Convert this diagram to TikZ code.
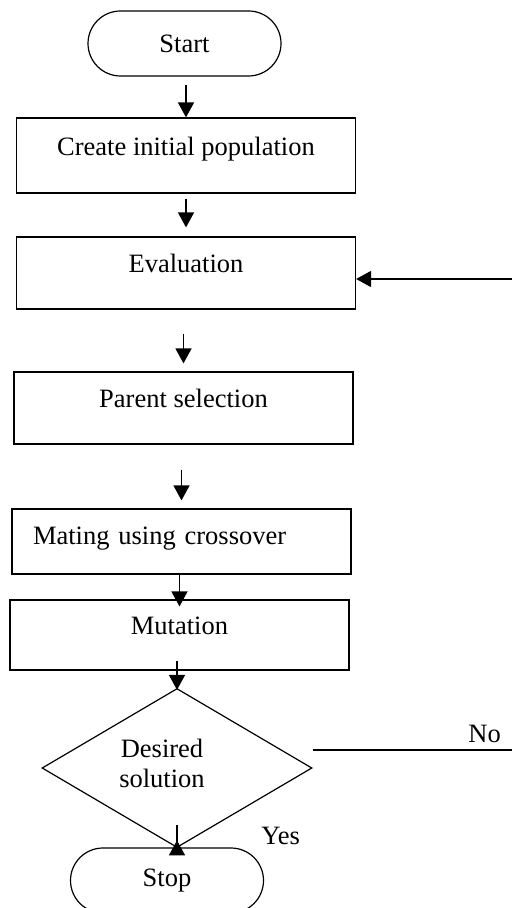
\documentclass[tikz,border=0pt]{standalone}
\usepackage{fontspec}
\setmainfont{Liberation Serif}
\usepackage{tikz}
\usetikzlibrary{shapes.geometric,shapes.misc}
\usetikzlibrary{arrows.meta,positioning}
\tikzset{
    termbox/.style={rounded rectangle, draw, minimum width=96.5pt, minimum height=32.5pt, inner sep=0pt},
    procbox/.style={rectangle, draw, minimum width=169.5pt, inner ysep=0pt},
    decision/.style={diamond, draw, minimum width=135pt, minimum height=79.5pt, inner sep=0pt},
    flow/.style={->, line width=0.75pt}
}

\begin{document}
\begin{tikzpicture}[>={Triangle[length=7.5pt,width=8pt]}, x=0.5pt, y=-0.5pt, line width=0.6pt, font=\fontsize{13.25}{15}\selectfont]
        \useasboundingbox (0,0) rectangle (512,908);

        % Start and stop
        \node[termbox] (start) at (184.5,43.5) {Start};
        \node[termbox] (stop) at (167,880.5) {Stop};

        % The steps of the loop
        \node[procbox, text height=19pt, text depth=18.5pt] (create) at (186,155.5) {Create initial population};
        \node[procbox, text height=18pt, text depth=18pt] (eval) at (186,273) {Evaluation};
        \node[procbox, text height=18pt, text depth=18pt] (parent) at (183.5,408) {Parent selection};
        \node[procbox, text height=17.5pt, text depth=15pt, align=left, text width=148.5pt, inner xsep=10.5pt] (mating) at (181.5,541.5) {Mating using crossover};
        \node[procbox, text height=17pt, text depth=18pt] (mutation) at (179.5,635) {Mutation};

        % The test
        \node[decision, label={[align=center, xshift=-7.5pt, yshift=2.5pt]center:Desired\\solution}] (dec) at (177,768) {};

        % Draw the arrows down the chart
        \draw[flow, shorten <=4pt] (start.south -| create.north) -- (create.north);
        \draw[flow, shorten <=2.5pt, shorten >=4.5pt] (create.south) -- (eval.north);
        \draw[flow, shorten <=12pt, shorten >=4pt] (eval.south -| parent.north) -- (parent.north);
        \draw[flow, shorten <=12.5pt, shorten >=4pt] (parent.south -| mating.north) -- (mating.north);
        \draw[flow, shorten >=-3.5pt] (mating.south -| mutation.north) -- (mutation.north);
        \draw[flow, shorten <=-5pt, shorten >=-1pt] (mutation.south -| dec.north) -- (dec.north);
        \draw[flow, shorten <=-11.5pt, shorten >=-3.5pt] (dec.south) -- (dec.south |- stop.north) node[midway, right=38.5pt, yshift=5.75pt] {Yes};

        % The way back to the evaluation
        \coordinate (noend) at (515,750);
        \coordinate (fb) at (515,279);
        \draw (noend -| dec.east) -- node[pos=0.85, above] {No} (noend);
        \draw[flow] (fb) -- (fb -| eval.east);
\end{tikzpicture}
\end{document}
